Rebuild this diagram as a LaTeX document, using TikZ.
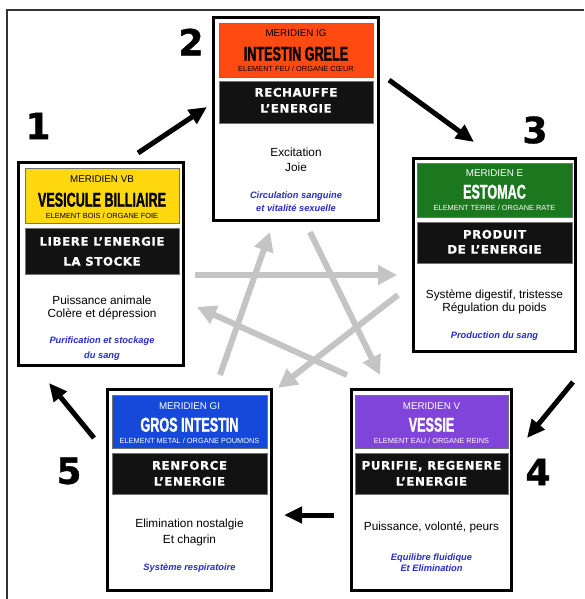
\documentclass[tikz,border=0pt]{standalone}
\usepackage{fontspec}
\setmainfont{Liberation Sans}
\newfontfamily\condf{Liberation Sans}[FakeStretch=0.63, FakeBold=1.2]
\newfontfamily\bandf{DejaVu Sans}[LetterSpace=5, FakeBold=0.6]
\newfontfamily\digf{DejaVu Sans}[FakeBold=1]
\usetikzlibrary{arrows.meta}
\definecolor{hdrorange}{RGB}{255,74,18}
\definecolor{hdryellow}{RGB}{255,216,16}
\definecolor{hdrgreen}{RGB}{28,120,30}
\definecolor{hdrblue}{RGB}{22,72,218}
\definecolor{hdrpurple}{RGB}{128,68,218}
\definecolor{bluetxt}{RGB}{40,45,205}
\definecolor{graycyc}{RGB}{196,196,196}
\tikzset{
  box/.style={draw=black, line width=3pt, fill=white, inner sep=0, rectangle},
  hdr/.style={draw=black!55, line width=0.6pt, inner sep=0, rectangle},
  band/.style={fill=black!93, draw=black!55, line width=0.6pt, inner sep=0, rectangle},
  merid/.style={font=\fontsize{9.8}{10}\selectfont, anchor=mid, inner sep=0},
  ttl/.style={font=\condf\bfseries\fontsize{20}{20}\selectfont, anchor=mid, inner sep=0},
  elem/.style={font=\fontsize{7.4}{7.4}\selectfont, anchor=mid, inner sep=0},
  bandt/.style={font=\bandf\bfseries\fontsize{11.8}{12}\selectfont, text=white, anchor=mid, inner sep=0},
  bodyt/.style={font=\fontsize{11.8}{12}\selectfont, anchor=mid, inner sep=0},
  bluet/.style={font=\bfseries\itshape\fontsize{9.3}{9.3}\selectfont, text=bluetxt, anchor=mid, inner sep=0},
  digit/.style={font=\digf\bfseries\fontsize{36}{36}\selectfont, inner sep=0},
  grayarrow/.style={draw=graycyc, line width=6pt, -{Triangle[length=19pt,width=19pt]}},
  blackarrow/.style={draw=black, line width=5pt, -{Triangle[length=18pt,width=16pt]}},
  frame/.style={draw=black!80, line width=1.6pt}
}
\begin{document}
\begin{tikzpicture}[x=1pt,y=-1pt]
\useasboundingbox (0,0) rectangle (584,599);
\fill[white] (0,0) rectangle (584,599);
\draw[frame] (7,599) -- (7,10) -- (584,10);

% gray cycle arrows
\coordinate (g1s) at (195,275); \coordinate (g1e) at (397,275);
\coordinate (g2s) at (220,375); \coordinate (g2e) at (270,232);
\coordinate (g3s) at (310,232); \coordinate (g3e) at (380,375);
\coordinate (g4s) at (398,295); \coordinate (g4e) at (278,388);
\coordinate (g5s) at (347,375); \coordinate (g5e) at (197,307);
\draw[grayarrow] (g1s) -- (g1e);
\draw[grayarrow] (g2s) -- (g2e);
\draw[grayarrow] (g3s) -- (g3e);
\draw[grayarrow] (g4s) -- (g4e);
\draw[grayarrow] (g5s) -- (g5e);

% black arrows
\coordinate (k12s) at (138,153); \coordinate (k12e) at (207,107);
\coordinate (k23s) at (389,80);  \coordinate (k23e) at (474,142);
\coordinate (k34s) at (573,382); \coordinate (k34e) at (527,438);
\coordinate (k45s) at (334,515); \coordinate (k45e) at (284,515);
\coordinate (k51s) at (94,438);  \coordinate (k51e) at (49,383);
\draw[blackarrow] (k12s) -- (k12e);
\draw[blackarrow] (k23s) -- (k23e);
\draw[blackarrow] (k34s) -- (k34e);
\draw[blackarrow] (k45s) -- (k45e);
\draw[blackarrow] (k51s) -- (k51e);

% numbers
\node[digit] (n1) at (38,126) {1};
\node[digit] (n2) at (191,42) {2};
\node[digit] (n3) at (535,130) {3};
\node[digit] (n4) at (538,472) {4};
\node[digit] (n5) at (69,471) {5};

% ---------- Box 1 VB ----------
\node[box, minimum width=165pt, minimum height=203pt] (box1) at (101,264) {};
\node[hdr, fill=hdryellow, minimum width=154pt, minimum height=55pt] (h1) at (102,195.5) {};
\node[band, minimum width=154pt, minimum height=46pt] (b1) at (102,251) {};
\node[merid] (t1a) at (102,180) {MERIDIEN VB};
\node[ttl] (t1b) at (102,204) {VESICULE BILLIAIRE};
\node[elem] (t1c) at (102,216) {ELEMENT BOIS / ORGANE FOIE};
\node[bandt] (t1d) at (102,243) {LIBERE L’ENERGIE};
\node[bandt] (t1e) at (102,263) {LA STOCKE};
\node[bodyt] (t1f) at (102,302) {Puissance animale};
\node[bodyt] (t1g) at (102,315) {Colère et dépression};
\node[bluet] (t1h) at (102,341) {Purification et stockage};
\node[bluet] (t1i) at (102,356) {du sang};

% ---------- Box 2 IG ----------
\node[box, minimum width=165pt, minimum height=203pt] (box2) at (296,119) {};
\node[hdr, fill=hdrorange, minimum width=154pt, minimum height=54pt] (h2) at (296,50) {};
\node[band, minimum width=154pt, minimum height=42pt] (b2) at (296,102) {};
\node[merid] (t2a) at (296,34) {MERIDIEN IG};
\node[ttl] (t2b) at (296,58) {INTESTIN GRELE};
\node[elem] (t2c) at (296,68.5) {ELEMENT FEU / ORGANE CŒUR};
\node[bandt] (t2d) at (296,94) {RECHAUFFE};
\node[bandt] (t2e) at (296,110) {L’ENERGIE};
\node[bodyt] (t2f) at (296,154) {Excitation};
\node[bodyt] (t2g) at (296,169) {Joie};
\node[bluet] (t2h) at (296,196) {Circulation sanguine};
\node[bluet] (t2i) at (296,209) {et vitalité sexuelle};

% ---------- Box 3 E ----------
\node[box, minimum width=162pt, minimum height=193pt] (box3) at (494.5,255) {};
\node[hdr, fill=hdrgreen, minimum width=155pt, minimum height=54pt] (h3) at (494.5,190) {};
\node[band, minimum width=155pt, minimum height=41pt] (b3) at (494.5,242.5) {};
\node[merid, text=white] (t3a) at (494.5,174) {MERIDIEN E};
\node[ttl, text=white] (t3b) at (494.5,196) {ESTOMAC};
\node[elem, text=white] (t3c) at (494.5,208) {ELEMENT TERRE / ORGANE RATE};
\node[bandt] (t3d) at (494.5,236) {PRODUIT};
\node[bandt] (t3e) at (494.5,251) {DE L’ENERGIE};
\node[bodyt] (t3f) at (494.5,296) {Système digestif, tristesse};
\node[bodyt] (t3g) at (494.5,309) {Régulation du poids};
\node[bluet] (t3h) at (494.5,336) {Production du sang};

% ---------- Box 4 V ----------
\node[box, minimum width=160pt, minimum height=201pt] (box4) at (431.5,490) {};
\node[hdr, fill=hdrpurple, minimum width=153pt, minimum height=53pt] (h4) at (431.5,421.5) {};
\node[band, minimum width=153pt, minimum height=41pt] (b4) at (431.5,473.5) {};
\node[merid, text=white] (t4a) at (431.5,407) {MERIDIEN V};
\node[ttl, text=white] (t4b) at (431.5,429) {VESSIE};
\node[elem, text=white] (t4c) at (431.5,440.5) {ELEMENT EAU / ORGANE REINS};
\node[bandt] (t4d) at (431.5,467) {PURIFIE, REGENERE};
\node[bandt] (t4e) at (431.5,483) {L’ENERGIE};
\node[bodyt] (t4f) at (431.5,528) {Puissance, volonté, peurs};
\node[bluet] (t4g) at (431.5,558) {Equilibre fluidique};
\node[bluet] (t4h) at (431.5,569) {Et Elimination};

% ---------- Box 5 GI ----------
\node[box, minimum width=164pt, minimum height=201pt] (box5) at (189.5,490) {};
\node[hdr, fill=hdrblue, minimum width=155pt, minimum height=53pt] (h5) at (189.5,421.5) {};
\node[band, minimum width=155pt, minimum height=41pt] (b5) at (189.5,473.5) {};
\node[merid, text=white] (t5a) at (189.5,407) {MERIDIEN GI};
\node[ttl, text=white] (t5b) at (189.5,429) {GROS INTESTIN};
\node[elem, text=white] (t5c) at (189.5,440.5) {ELEMENT METAL / ORGANE POUMONS};
\node[bandt] (t5d) at (189.5,467) {RENFORCE};
\node[bandt] (t5e) at (189.5,483) {L’ENERGIE};
\node[bodyt] (t5f) at (189.5,525) {Elimination nostalgie};
\node[bodyt] (t5g) at (189.5,541) {Et chagrin};
\node[bluet] (t5h) at (189.5,568) {Système respiratoire};
\end{tikzpicture}
\end{document}
